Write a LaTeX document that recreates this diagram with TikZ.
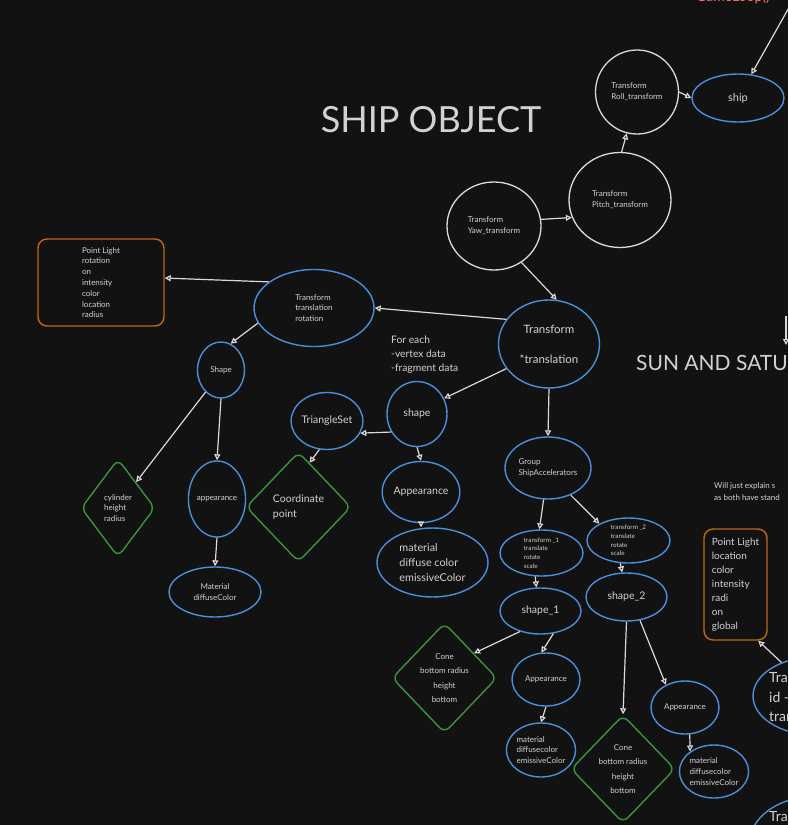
\documentclass[tikz,border=0pt]{standalone}
\usepackage{fontspec}
\setmainfont{Lato}
\usetikzlibrary{shapes.geometric,arrows.meta}
\definecolor{bg}{HTML}{121212}
\definecolor{wht}{HTML}{DADADA}
\definecolor{txt}{HTML}{D2D2D2}
\definecolor{blu}{HTML}{4A8FDB}
\definecolor{grn}{HTML}{37963D}
\definecolor{org}{HTML}{C0690E}
\definecolor{redt}{HTML}{FF6B6B}
\begin{document}
\begin{tikzpicture}[x=1pt,y=-1pt,
  base/.style={inner sep=0pt, text=txt, align=center},
  bell/.style={base, ellipse, draw=blu, line width=1.4pt},
  well/.style={base, ellipse, draw=wht, line width=1.3pt},
  gdia/.style={base, diamond, draw=grn, line width=1.4pt, rounded corners=7pt},
  obox/.style={base, rectangle, draw=org, line width=1.4pt, rounded corners=9pt},
  fsix/.style={font=\fontsize{6.3}{8.8}\selectfont},
  fsm/.style={font=\fontsize{8}{10.8}\selectfont},
  fcone/.style={font=\fontsize{8}{14.5}\selectfont},
  fmid/.style={font=\fontsize{10.5}{15}\selectfont},
  arr/.style={draw=wht, line width=1.2pt, -{Triangle[open,length=6pt,width=6pt]}}]
\useasboundingbox (0,0) rectangle (788,825);
\fill[bg] (0,0) rectangle (788,825);
\clip (0,0) rectangle (788,825);

% titles and free texts
\node[base, font=\fontsize{36}{40}\selectfont] (title) at (431,120) {SHIP OBJECT};
\node[base, anchor=west, font=\fontsize{21}{24}\selectfont] (sun) at (636,363) {SUN AND SATURN};
\node[base, anchor=base, text=redt, font=\fontsize{14}{16}\selectfont] (gameloop) at (733,1) {GameLoop()};
\node[base, anchor=west, align=left, font=\fontsize{10.3}{14}\selectfont] (foreach) at (391,355) {For each\\-vertex data\\-fragment data};
\node[base, anchor=west, align=left, font=\fontsize{8}{12}\selectfont] (will) at (714,492) {Will just explain s\\as both have stand};

% top chain
\node[bell, minimum width=92pt, minimum height=48pt, font=\fontsize{11}{13}\selectfont] (ship) at (738,98) {ship};
\node[well, align=left, fsm, minimum width=83pt, minimum height=84pt] (roll) at (637,92) {Transform\\Roll\_transform};
\node[well, align=left, fsm, minimum width=102pt, minimum height=95pt] (pitch) at (620,200) {Transform\\Pitch\_transform};
\node[well, align=left, fsm, minimum width=94pt, minimum height=88pt] (yaw) at (494,226) {Transform\\Yaw\_transform};
\node[bell, minimum width=101pt, minimum height=88pt, font=\fontsize{11.5}{15}\selectfont] (tt) at (549,344) {Transform\\[15pt]*translation};

% left branch
\node[bell, align=left, fsm, minimum width=120pt, minimum height=77pt] (ttr) at (314,308) {Transform\\translation\\rotation};
\node[obox, align=left, fsm, minimum width=126pt, minimum height=87pt] (pl1) at (101,282.5) {Point Light\\rotation\\on\\intensity\\color\\location\\radius};
\node[bell, fsm, minimum width=47pt, minimum height=56pt] (shapeS) at (221,370) {Shape};
\node[gdia, align=left, fsm, minimum width=74pt, minimum height=98pt] (cyl) at (118,508) {cylinder\\height\\radius};
\node[bell, fsm, minimum width=54pt, minimum height=76pt] (app1) at (217,499) {appearance};
\node[bell, fsm, minimum width=92pt, minimum height=50pt] (mat1) at (215,592) {Material\\diffuseColor};

% middle branch
\node[bell, fmid, minimum width=65pt, minimum height=57pt] (tri) at (327,421) {TriangleSet};
\node[gdia, align=left, fmid, minimum width=105pt, minimum height=110pt] (coord) at (298.5,507) {Coordinate\\point};
\node[bell, fmid, minimum width=60pt, minimum height=65pt] (shp) at (417,414) {shape};
\node[bell, fmid, minimum width=76pt, minimum height=61pt] (app2) at (421,492) {Appearance};
\node[bell, align=left, font=\fontsize{10.8}{15}\selectfont, minimum width=111pt, minimum height=69pt] (mat2) at (432.5,562.5) {material\\diffuse color\\emissiveColor};

% accelerators branch
\node[bell, align=left, fsm, minimum width=86pt, minimum height=62pt] (grp) at (548,468) {Group\\ShipAccelerators};
\node[bell, align=left, fsix, minimum width=83pt, minimum height=46pt] (t1) at (541.5,553) {transform \_1\\translate\\rotate\\scale};
\node[bell, align=left, fsix, minimum width=83pt, minimum height=45pt] (t2) at (628.5,540.5) {transform \_2\\translate\\rotate\\scale};
\node[bell, fmid, minimum width=81pt, minimum height=46pt] (s1) at (540.5,611) {shape\_1};
\node[bell, fmid, minimum width=81pt, minimum height=48pt] (s2) at (626.5,597) {shape\_2};
\node[gdia, fcone, minimum width=105pt, minimum height=110pt] (cone1) at (444.5,678) {Cone\\bottom radius\\height\\bottom};
\node[bell, fsm, minimum width=68pt, minimum height=53pt] (app3) at (546,679.5) {Appearance};
\node[bell, align=left, fsm, minimum width=68pt, minimum height=54pt] (mat3) at (541,750) {material\\diffusecolor\\emissiveColor};
\node[gdia, fcone, minimum width=104pt, minimum height=108pt] (cone2) at (623,769) {Cone\\bottom radius\\height\\bottom};
\node[bell, fsm, minimum width=68pt, minimum height=53pt] (app4) at (685,707.5) {Appearance};
\node[bell, align=left, fsm, minimum width=68pt, minimum height=53pt] (mat4) at (714,771.5) {material\\diffusecolor\\emissiveColor};

% right side (sun and saturn)
\node[obox, align=left, font=\fontsize{10}{14}\selectfont, minimum width=63pt, minimum height=111pt] (pl2) at (735.5,584.5) {Point Light\\location\\color\\intensity\\radi\\on\\global};
\node[bell, minimum width=124pt, minimum height=78pt] (rell) at (815,696) {};
\node[base, anchor=west, align=left, font=\fontsize{14}{19.5}\selectfont] (rtext) at (769,697) {Transform\\id - sun\\translation};
\node[bell, minimum width=126pt, minimum height=96pt] (rell2) at (812,845) {};
\node[base, anchor=west, font=\fontsize{14}{17}\selectfont] (rtext2) at (769,816) {Transform};

\coordinate (glc) at (791,4);
\coordinate (sa) at (786,316);
\coordinate (sb) at (786,345);

% connectors
\draw[arr] (glc) -- (ship);
\draw[arr] (sa) -- (sb);
\draw[arr] (roll.east) -- (ship.west);
\draw[arr] (pitch.88) -- (roll.256);
\draw[arr] (yaw.8) -- (pitch.200);
\draw[arr] (yaw.-53) -- (tt.80);
\draw[arr] (tt.150) -- (ttr.east);
\draw[arr] (ttr.150) -- (pl1.4);
\draw[arr] (ttr.195) -- (shapeS.70);
\draw[arr] (shapeS.235) -- (cyl.55);
\draw[arr] (shapeS.south) -- (app1.north);
\draw[arr] (app1.south) -- (mat1.north);
\draw[arr] (tt.210) -- (shp.30);
\draw[arr] (shp.215) -- (tri.-20);
\draw[arr] (tri.255) -- (coord.76);
\draw[arr] (shp.south) -- (app2.north);
\draw[arr] (app2.south) -- (app2.south |- mat2.north);
\draw[arr] (tt.south) -- (grp.north);
\draw[arr] (grp.262) -- (t1.95);
\draw[arr] (grp.-50) -- (t2.150);
\draw[arr] (t1.255) -- (s1.100);
\draw[arr] (t2.250) -- (s2.100);
\draw[arr] (s1.225) -- (cone1.40);
\draw[arr] (s1.-60) -- (app3.100);
\draw[arr] (app3.south) -- (mat3.north);
\draw[arr] (s2.south) -- (cone2.north);
\draw[arr] (s2.-60) -- (app4.130);
\draw[arr] (app4.-80) -- (mat4.140);
\draw[arr] (rell.135) -- (pl2.-68);
\end{tikzpicture}
\end{document}
